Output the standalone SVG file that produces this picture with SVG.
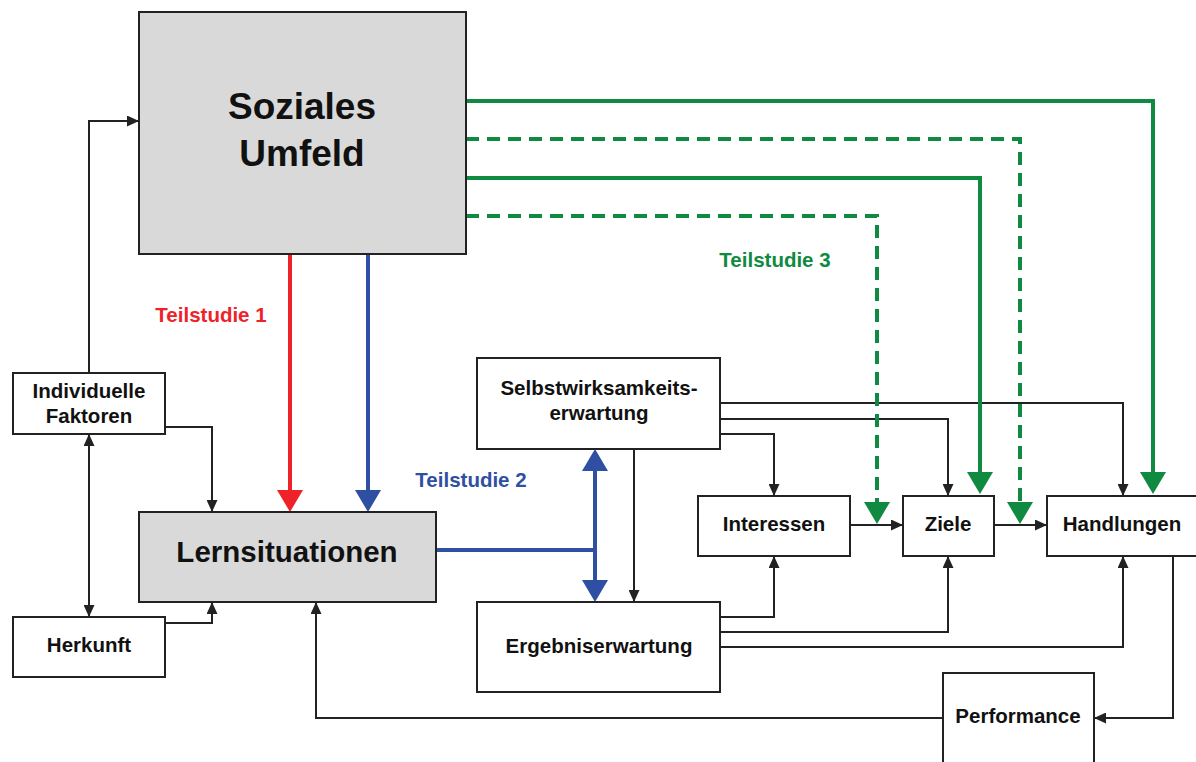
<svg xmlns="http://www.w3.org/2000/svg" width="1196" height="762" viewBox="0 0 1196 762">
  <style>
    .box { fill: #ffffff; stroke: #222222; stroke-width: 2; }
    .grey { fill: #d9d9d9; }
    .lbl { font-family: "Liberation Sans", Arial, sans-serif; font-weight: bold; fill: #111111; text-anchor: middle; }
    .sm { font-size: 20.5px; }
    .blk { fill: none; stroke: #222222; stroke-width: 2; }
    .grn { fill: none; stroke: #0f8a40; stroke-width: 4; }
    .dash { stroke-dasharray: 13 8; }
    .red { fill: none; stroke: #ee2229; stroke-width: 4; }
    .blu { fill: none; stroke: #2f4fa3; stroke-width: 4; }
  </style>
  <defs>
    <marker id="ab" markerUnits="userSpaceOnUse" markerWidth="12" markerHeight="11" refX="12" refY="5.5" orient="auto-start-reverse">
      <path d="M0,0 L12,5.5 L0,11 z" fill="#222222"/>
    </marker>
    <marker id="ag" markerUnits="userSpaceOnUse" markerWidth="22" markerHeight="26" refX="12" refY="13" orient="auto">
      <path d="M0,0 L22,13 L0,26 z" fill="#0f8a40"/>
    </marker>
    <marker id="ar" markerUnits="userSpaceOnUse" markerWidth="22" markerHeight="26" refX="12" refY="13" orient="auto">
      <path d="M0,0 L22,13 L0,26 z" fill="#ee2229"/>
    </marker>
    <marker id="au" markerUnits="userSpaceOnUse" markerWidth="22" markerHeight="26" refX="12" refY="13" orient="auto-start-reverse">
      <path d="M0,0 L22,13 L0,26 z" fill="#2f4fa3"/>
    </marker>
  </defs>

  <!-- connectors -->
  <g id="connectors">
    <path class="blk" d="M89,373 V121 H139" marker-end="url(#ab)"/>
    <path class="blk" d="M89,434 V617" marker-start="url(#ab)" marker-end="url(#ab)"/>
    <path class="blk" d="M165,427 H212 V512" marker-end="url(#ab)"/>
    <path class="blk" d="M165,623 H212 V602" marker-end="url(#ab)"/>
    <path class="red" d="M290,253 V502" marker-end="url(#ar)"/>
    <path class="blu" d="M368,253 V502" marker-end="url(#au)"/>
    <path class="blu" d="M436,550 H595"/>
    <path class="blu" d="M595,459 V592" marker-start="url(#au)" marker-end="url(#au)"/>
    <path class="blk" d="M634,449 V602" marker-end="url(#ab)"/>
    <path class="blk" d="M720,403 H1123 V496" marker-end="url(#ab)"/>
    <path class="blk" d="M720,419 H948 V496" marker-end="url(#ab)"/>
    <path class="blk" d="M720,434 H774 V496" marker-end="url(#ab)"/>
    <path class="blk" d="M850,525 H903" marker-end="url(#ab)"/>
    <path class="blk" d="M994,525 H1047" marker-end="url(#ab)"/>
    <path class="blk" d="M720,617 H774 V556" marker-end="url(#ab)"/>
    <path class="blk" d="M720,632 H948 V556" marker-end="url(#ab)"/>
    <path class="blk" d="M720,647 H1123 V556" marker-end="url(#ab)"/>
    <path class="blk" d="M1173,556 V718 H1094" marker-end="url(#ab)"/>
    <path class="blk" d="M943,718 H316 V602" marker-end="url(#ab)"/>
    <path class="grn" d="M466,101 H1153 V484" marker-end="url(#ag)"/>
    <path class="grn dash" d="M466,139 H1020 V514" marker-end="url(#ag)"/>
    <path class="grn" d="M466,178 H980 V484" marker-end="url(#ag)"/>
    <path class="grn dash" d="M466,216 H877 V514" marker-end="url(#ag)"/>
  </g>

  <!-- study labels -->
  <g id="labels" class="lbl sm">
    <text x="211" y="322" fill="#ee2229" style="fill:#ee2229">Teilstudie 1</text>
    <text x="471" y="487" style="fill:#2f4fa3">Teilstudie 2</text>
    <text x="775" y="267" style="fill:#0f8a40">Teilstudie 3</text>
  </g>

  <g id="soziales-umfeld">
    <rect class="box grey" x="139" y="12" width="327" height="242"/>
    <text class="lbl" x="302" y="119" font-size="37">Soziales</text>
    <text class="lbl" x="302" y="166" font-size="37">Umfeld</text>
  </g>

  <g id="individuelle-faktoren">
    <rect class="box" x="13" y="373" width="152" height="61"/>
    <text class="lbl sm" x="89" y="398">Individuelle</text>
    <text class="lbl sm" x="89" y="423">Faktoren</text>
  </g>

  <g id="herkunft">
    <rect class="box" x="13" y="617" width="152" height="60"/>
    <text class="lbl sm" x="89" y="652">Herkunft</text>
  </g>

  <g id="lernsituationen">
    <rect class="box grey" x="139" y="512" width="297" height="90"/>
    <text class="lbl" x="287" y="562" font-size="29.5">Lernsituationen</text>
  </g>

  <g id="selbstwirksamkeitserwartung">
    <rect class="box" x="477" y="358" width="243" height="91"/>
    <text class="lbl sm" x="599" y="395">Selbstwirksamkeits-</text>
    <text class="lbl sm" x="599" y="420">erwartung</text>
  </g>

  <g id="ergebniserwartung">
    <rect class="box" x="477" y="602" width="243" height="90"/>
    <text class="lbl sm" x="599" y="653">Ergebniserwartung</text>
  </g>

  <g id="interessen">
    <rect class="box" x="698" y="496" width="152" height="60"/>
    <text class="lbl sm" x="774" y="531">Interessen</text>
  </g>

  <g id="ziele">
    <rect class="box" x="903" y="496" width="91" height="60"/>
    <text class="lbl sm" x="948" y="531">Ziele</text>
  </g>

  <g id="handlungen">
    <rect class="box" x="1047" y="496" width="152" height="60"/>
    <text class="lbl sm" x="1122" y="531">Handlungen</text>
  </g>

  <g id="performance">
    <rect class="box" x="943" y="673" width="151" height="100"/>
    <text class="lbl sm" x="1018" y="723">Performance</text>
  </g>
</svg>
